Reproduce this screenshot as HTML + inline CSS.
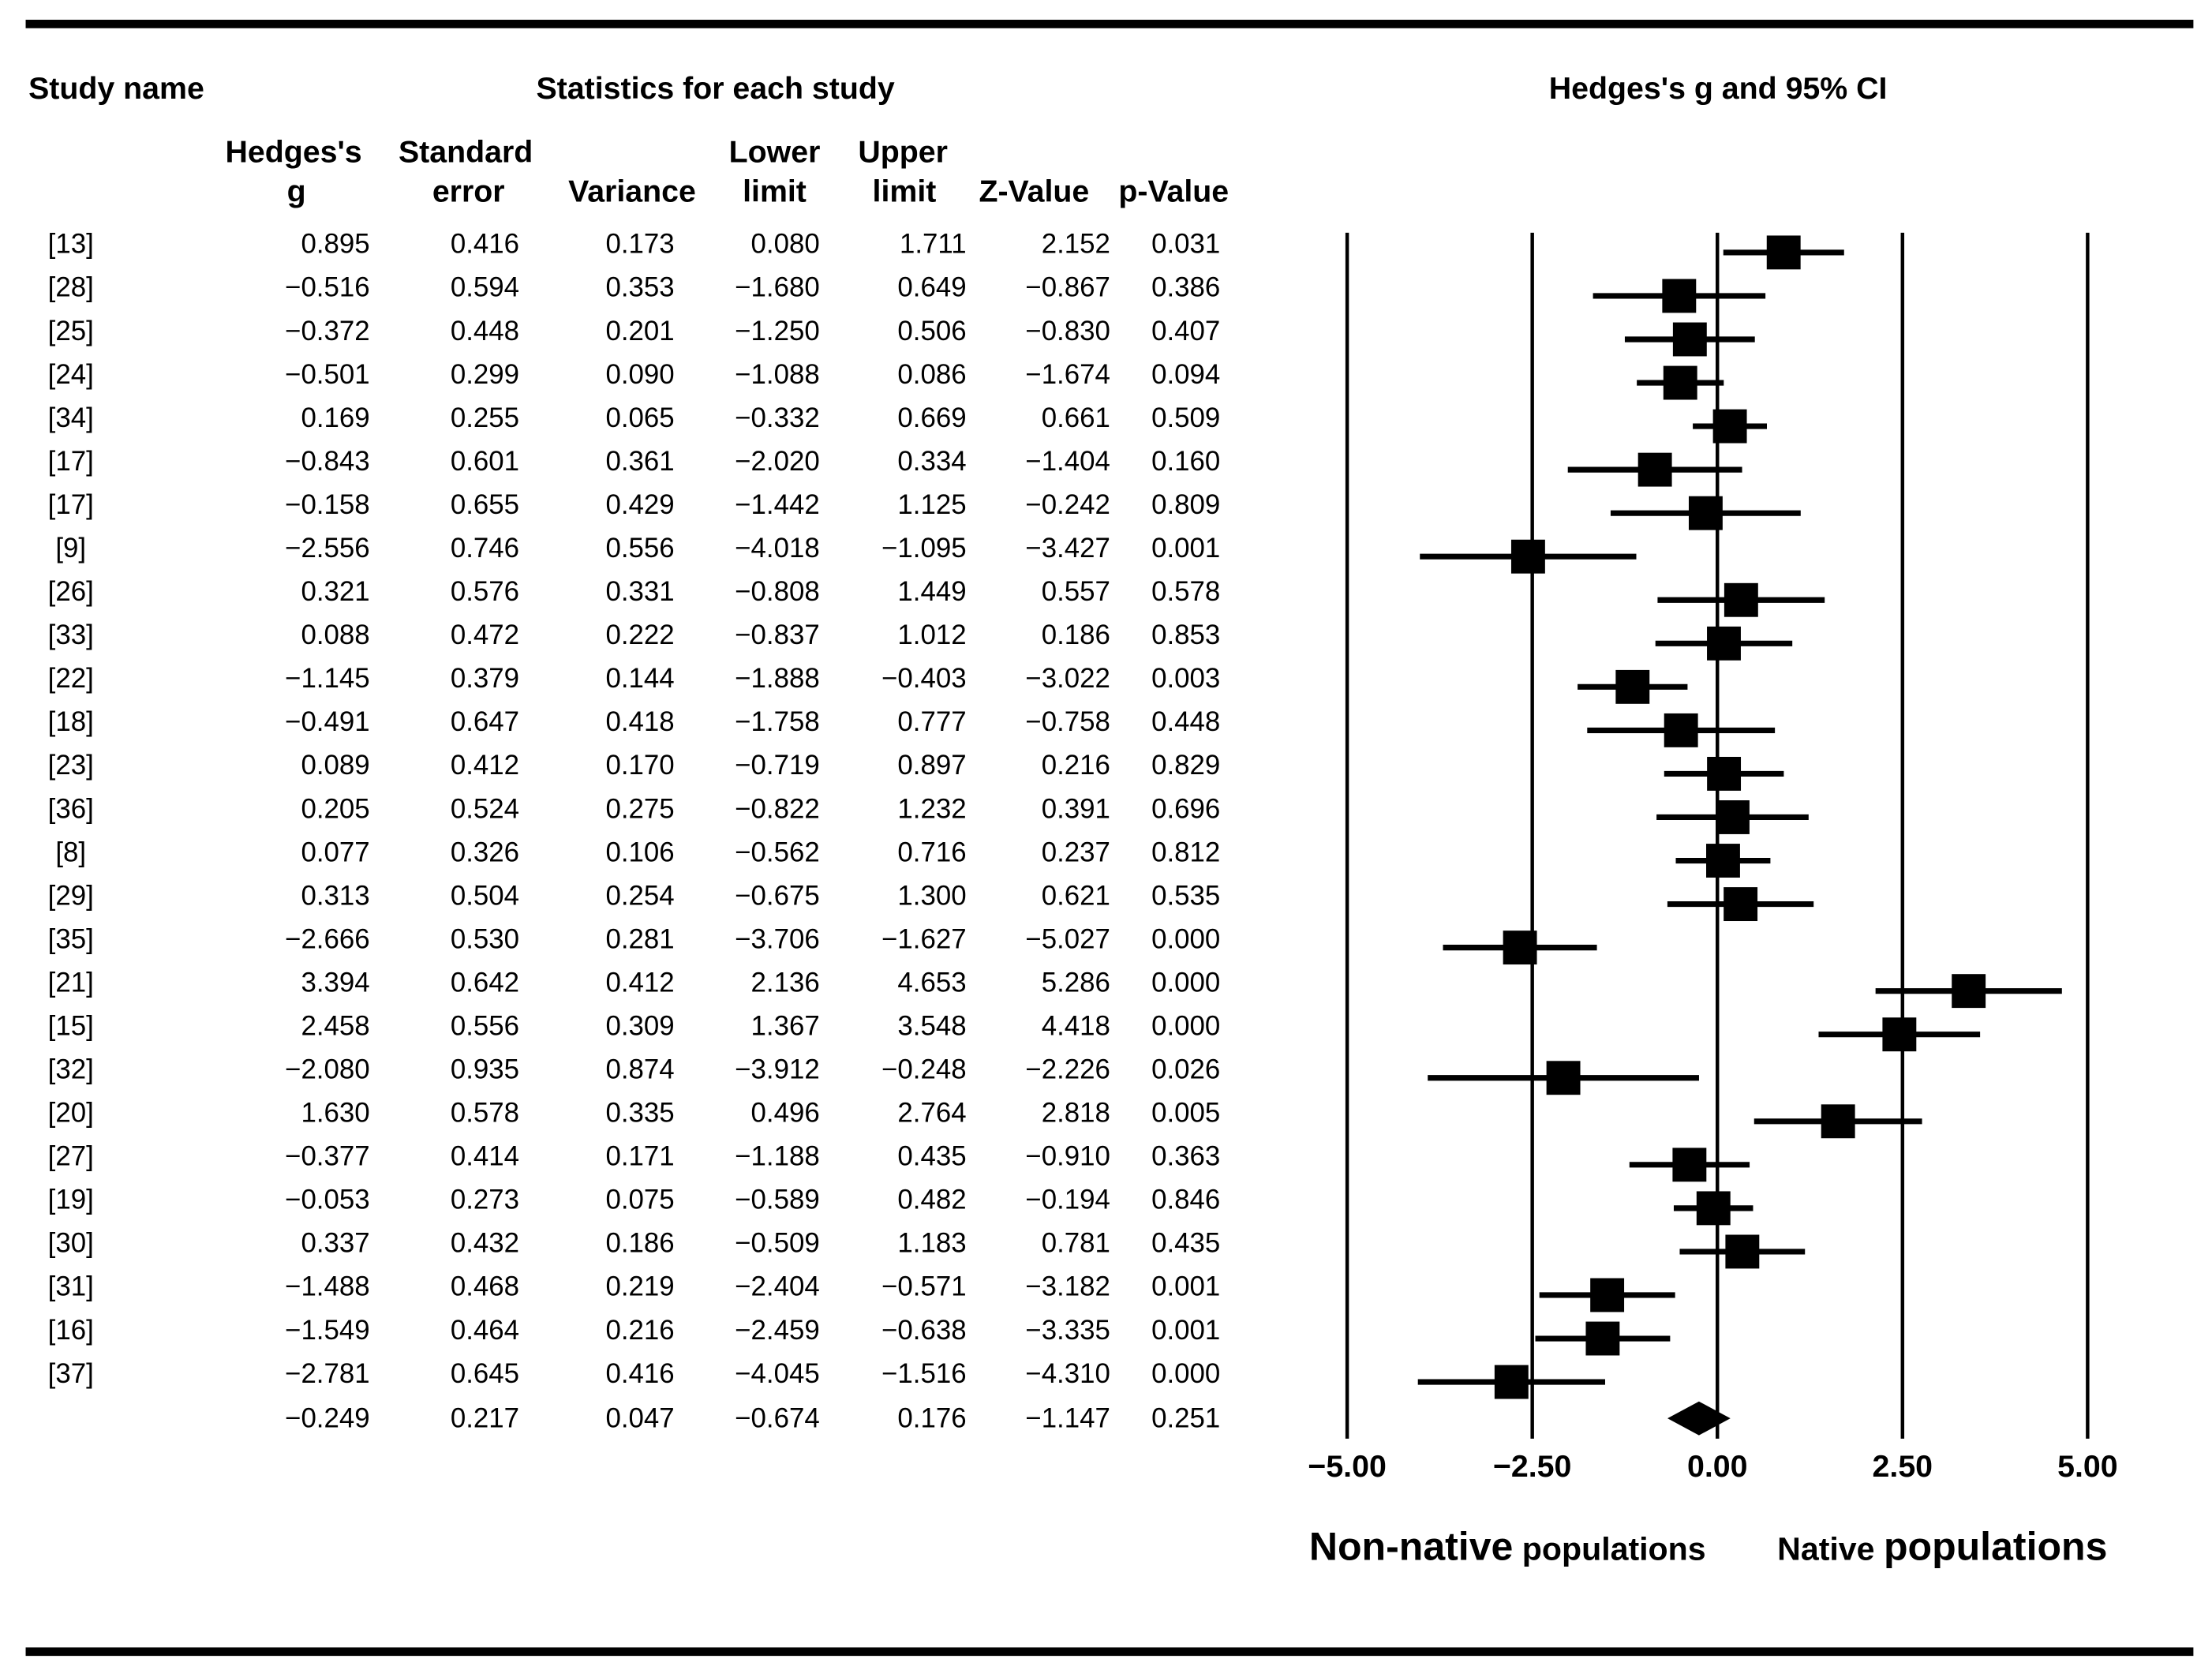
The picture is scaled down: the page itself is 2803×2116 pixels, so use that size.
<!DOCTYPE html>
<html><head><meta charset="utf-8"><style>
html,body{margin:0;padding:0;background:#fff;}
svg{display:block;font-family:"Liberation Sans",sans-serif;}
</style></head><body>
<svg id="chart" width="2803" height="2116" viewBox="0 0 1568 1184" xmlns="http://www.w3.org/2000/svg">
<rect x="18" y="14" width="1537" height="6" fill="#000"/>
<rect x="18" y="1168" width="1537" height="6" fill="#000"/>
<g font-weight="bold" font-size="22" fill="#000">
<text x="20" y="70">Study name</text>
<text x="380" y="70">Statistics for each study</text>
<text x="1218" y="70" text-anchor="middle">Hedges's g and 95% CI</text>
<g text-anchor="middle">
<text x="208" y="115">Hedges's</text><text x="210" y="143">g</text>
<text x="330" y="115">Standard</text><text x="332" y="143">error</text>
<text x="448" y="143">Variance</text>
<text x="549" y="115">Lower</text><text x="549" y="143">limit</text>
<text x="640" y="115">Upper</text><text x="641" y="143">limit</text>
<text x="733" y="143">Z-Value</text>
<text x="832" y="143">p-Value</text>
</g>
</g>
<g id="axis"></g>
<g id="rows" font-size="19.5" fill="#000"></g>
<g font-weight="bold" fill="#000">
<text x="928" y="1106"><tspan font-size="28">Non-native</tspan><tspan font-size="23"> populations</tspan></text>
<text x="1260" y="1106"><tspan font-size="23">Native </tspan><tspan font-size="28">populations</tspan></text>
</g>
</svg>
<script>
const studies = ["[13]","[28]","[25]","[24]","[34]","[17]","[17]","[9]","[26]","[33]","[22]","[18]","[23]","[36]","[8]","[29]","[35]","[21]","[15]","[32]","[20]","[27]","[19]","[30]","[31]","[16]","[37]"];
const hedgesG = [0.895,-0.516,-0.372,-0.501,0.169,-0.843,-0.158,-2.556,0.321,0.088,-1.145,-0.491,0.089,0.205,0.077,0.313,-2.666,3.394,2.458,-2.080,1.630,-0.377,-0.053,0.337,-1.488,-1.549,-2.781];
const stdErr = [0.416,0.594,0.448,0.299,0.255,0.601,0.655,0.746,0.576,0.472,0.379,0.647,0.412,0.524,0.326,0.504,0.530,0.642,0.556,0.935,0.578,0.414,0.273,0.432,0.468,0.464,0.645];
const variance = [0.173,0.353,0.201,0.090,0.065,0.361,0.429,0.556,0.331,0.222,0.144,0.418,0.170,0.275,0.106,0.254,0.281,0.412,0.309,0.874,0.335,0.171,0.075,0.186,0.219,0.216,0.416];
const lowerLimit = [0.080,-1.680,-1.250,-1.088,-0.332,-2.020,-1.442,-4.018,-0.808,-0.837,-1.888,-1.758,-0.719,-0.822,-0.562,-0.675,-3.706,2.136,1.367,-3.912,0.496,-1.188,-0.589,-0.509,-2.404,-2.459,-4.045];
const upperLimit = [1.711,0.649,0.506,0.086,0.669,0.334,1.125,-1.095,1.449,1.012,-0.403,0.777,0.897,1.232,0.716,1.300,-1.627,4.653,3.548,-0.248,2.764,0.435,0.482,1.183,-0.571,-0.638,-1.516];
const zValue = [2.152,-0.867,-0.830,-1.674,0.661,-1.404,-0.242,-3.427,0.557,0.186,-3.022,-0.758,0.216,0.391,0.237,0.621,-5.027,5.286,4.418,-2.226,2.818,-0.910,-0.194,0.781,-3.182,-3.335,-4.310];
const pValue = [0.031,0.386,0.407,0.094,0.509,0.160,0.809,0.001,0.578,0.853,0.003,0.448,0.829,0.696,0.812,0.535,0.000,0.000,0.000,0.026,0.005,0.363,0.846,0.435,0.001,0.001,0.000];
const summary = [-0.249,0.217,0.047,-0.674,0.176,-1.147,0.251];
const ticks = [-5,-2.5,0,2.5,5];
const tickLabels = ["\u22125.00","\u22122.50","0.00","2.50","5.00"];

const NS="http://www.w3.org/2000/svg";
const xScale = v => 1217.5 + v*52.5;
const yRow = i => 173 + i*30.8;
function mk(tag, attrs, parent){const e=document.createElementNS(NS,tag);for(const k in attrs)e.setAttribute(k,attrs[k]);parent.appendChild(e);return e;}
const fmt = v => (v<0?"\u2212":"")+Math.abs(v).toFixed(3);
const axis=document.getElementById('axis'), rows=document.getElementById('rows');
ticks.forEach((t,i)=>{
  const l=mk('line',{x1:xScale(t),x2:xScale(t),y1:165,y2:1020,stroke:'#000','stroke-width':2.5},axis);
  
  
  const tx=mk('text',{x:xScale(t),y:1047,'text-anchor':'middle','font-size':22,'font-weight':'bold'},axis);
  tx.textContent=tickLabels[i];
  
  
});
const colRight=[262,368,478,581,685,787,865];
function addRow(y, name, vals){
  if(name!==null){const t=mk('text',{x:50,y:y,'text-anchor':'middle','dominant-baseline':'central'},rows);t.textContent=name;
  
  }
  vals.forEach((v,j)=>{const t=mk('text',{x:colRight[j],y:y,'text-anchor':'end','dominant-baseline':'central'},rows);t.textContent=fmt(v);
  
  });
}
studies.forEach((s,i)=>{
  const y=yRow(i);
  addRow(y,s,[hedgesG[i],stdErr[i],variance[i],lowerLimit[i],upperLimit[i],zValue[i],pValue[i]]);
  const my=y+6;
  const ci=mk('line',{x1:xScale(lowerLimit[i]),x2:xScale(upperLimit[i]),y1:my,y2:my,stroke:'#000','stroke-width':4},rows);
  
  
  const sq=mk('rect',{x:xScale(hedgesG[i])-12,y:my-12,width:24,height:24,fill:'#000'},rows);
  
  
});
const sy=yRow(27)+1;
addRow(sy,null,summary);
const d=mk('polygon',{points:`${xScale(summary[3])},${sy} ${xScale(summary[0])},${sy-12} ${xScale(summary[4])},${sy} ${xScale(summary[0])},${sy+12}`,fill:'#000'},rows);


</script>
</body></html>
